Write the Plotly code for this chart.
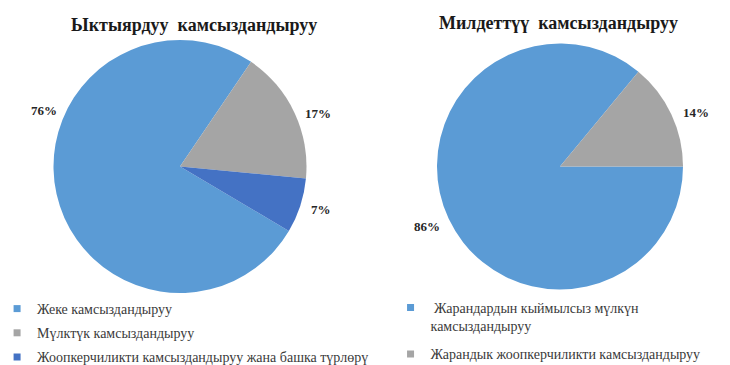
import math
import plotly.graph_objects as go

# Data
left_title = "Ыктыярдуу  камсыздандыруу"
left_labels = ["Жеке камсыздандыруу", "Мүлктүк камсыздандыруу",
               "Жоопкерчиликти камсыздандыруу жана башка түрлөрү"]
left_values = [76, 17, 7]

right_title = "Милдеттүү  камсыздандыруу"
right_labels = [" Жарандардын кыймылсыз мүлкүн<br>камсыздандыруу",
                "Жарандык жоопкерчиликти камсыздандыруу"]
right_values = [86, 14]

left_colors = ["#5B9BD5", "#A5A5A5", "#4472C4"]
right_colors = ["#5B9BD5", "#A5A5A5"]

SERIF = "Liberation Serif"
W, H = 730, 365

# pie geometry (pixels): centre x, centre y, radius, start rotation
LEFT = dict(cx=180, cy=166.5, r=126.5, rot=120.6, gap=21, nudge=[35, 4, -1])
RIGHT = dict(cx=560, cy=166.5, r=123, rot=90, gap=23, nudge=[1, 3.6])


def domain(g):
    return dict(x=[(g["cx"] - g["r"]) / W, (g["cx"] + g["r"]) / W],
                y=[1 - (g["cy"] + g["r"]) / H, 1 - (g["cy"] - g["r"]) / H])


def pct_annotations(values, g):
    total = sum(values)
    anns = []
    cum = 0
    for v, nudge in zip(values, g["nudge"]):
        mid = math.radians(g["rot"] + 360 * (cum + v / 2) / total + nudge)
        R = g["r"] + g["gap"]
        px = g["cx"] + R * math.sin(mid)
        py = g["cy"] - R * math.cos(mid)
        anns.append(dict(text="<b>%d%%</b>" % round(100 * v / total),
                         x=px / W, y=1 - py / H, xref="paper", yref="paper",
                         xanchor="center", yanchor="middle", showarrow=False,
                         font=dict(family=SERIF, size=13, color="#262626")))
        cum += v
    return anns


fig = go.Figure()
fig.add_trace(go.Pie(
    labels=left_labels, values=left_values, sort=False, direction="clockwise",
    rotation=LEFT["rot"], marker=dict(colors=left_colors, line=dict(width=0)),
    textposition="none", domain=domain(LEFT), showlegend=False,
    hoverinfo="label+percent",
))
fig.add_trace(go.Pie(
    labels=right_labels, values=right_values, sort=False, direction="clockwise",
    rotation=RIGHT["rot"], marker=dict(colors=right_colors, line=dict(width=0)),
    textposition="none", domain=domain(RIGHT), showlegend=False,
    hoverinfo="label+percent",
))

# legend entries
for lab, col in zip(left_labels, left_colors):
    fig.add_trace(go.Scatter(x=[None], y=[None], mode="markers", name=lab,
                             marker=dict(symbol="square", size=7, color=col),
                             legendgroup=lab, legend="legend", hoverinfo="skip"))
for lab, col in zip(right_labels, right_colors):
    fig.add_trace(go.Scatter(x=[None], y=[None], mode="markers", name=lab,
                             marker=dict(symbol="square", size=7, color=col),
                             legendgroup=lab, legend="legend2", hoverinfo="skip"))

annotations = [
    dict(text="<b>" + left_title + "</b>", x=194 / W, y=1 - 25 / H, xref="paper", yref="paper",
         xanchor="center", yanchor="middle", showarrow=False,
         font=dict(family=SERIF, size=18, color="#1a1a1a")),
    dict(text="<b>" + right_title + "</b>", x=558 / W, y=1 - 23 / H, xref="paper", yref="paper",
         xanchor="center", yanchor="middle", showarrow=False,
         font=dict(family=SERIF, size=18, color="#1a1a1a")),
]
annotations += pct_annotations(left_values, LEFT)
annotations += pct_annotations(right_values, RIGHT)

legend_font = dict(family=SERIF, size=14, color="#3a3a3a")
fig.update_layout(
    width=W, height=H,
    margin=dict(l=0, r=0, t=0, b=0, autoexpand=False),
    paper_bgcolor="white", plot_bgcolor="white",
    font=dict(family=SERIF, size=14, color="#3a3a3a"),
    xaxis=dict(visible=False), yaxis=dict(visible=False),
    legend=dict(x=-0.004, y=1 - 293 / H, xanchor="left", yanchor="top",
                font=legend_font, bgcolor="rgba(0,0,0,0)", traceorder="grouped",
                tracegroupgap=3, itemsizing="trace", valign="top"),
    legend2=dict(x=0.535, y=1 - 292 / H, xanchor="left", yanchor="top",
                 font=legend_font, bgcolor="rgba(0,0,0,0)", traceorder="grouped",
                 tracegroupgap=7, itemsizing="trace", valign="top"),
    annotations=annotations,
)

fig.write_html("out.html",
               config={"displayModeBar": False},
               post_script="document.body.style.margin='0px';document.body.style.overflow='hidden';")
